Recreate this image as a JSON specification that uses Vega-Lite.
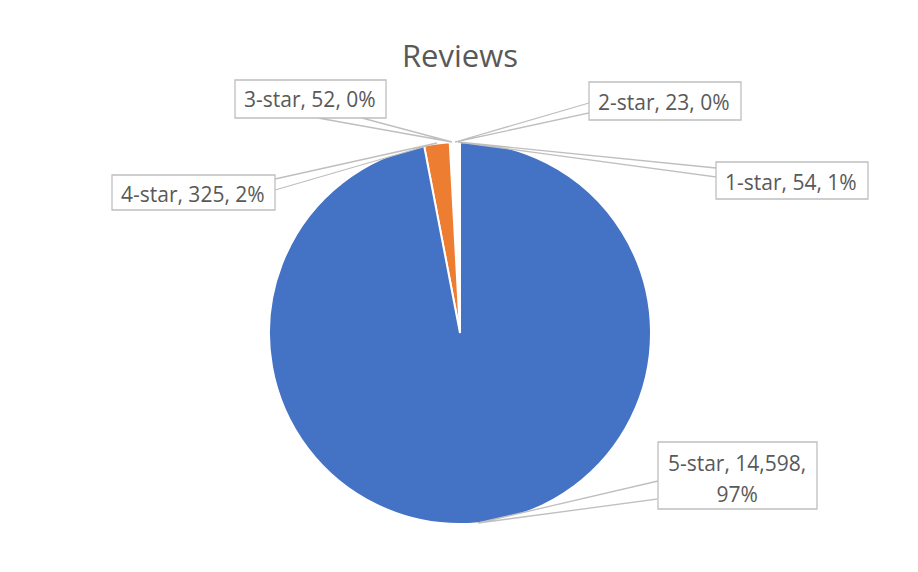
{
  "$schema": "https://vega.github.io/schema/vega-lite/v6.json",
  "width": 916,
  "height": 478,
  "autosize": {"type": "none"},
  "padding": {"left": 2, "top": 94, "right": 0, "bottom": 0},
  "background": "white",
  "config": {"view": {"stroke": null}},
  "title": {
    "text": "Reviews",
    "font": "Open Sans",
    "fontSize": 31,
    "fontWeight": "normal",
    "color": "#595959",
    "anchor": "middle",
    "baseline": "alphabetic",
    "offset": -25
  },
  "data": {
    "values": [
      {"stars": "1-star", "count": 54, "label": "1-star, 54, 1%"},
      {"stars": "2-star", "count": 23, "label": "2-star, 23, 0%"},
      {"stars": "3-star", "count": 52, "label": "3-star, 52, 0%"},
      {"stars": "4-star", "count": 325, "label": "4-star, 325, 2%"},
      {"stars": "5-star", "count": 14598, "label": "5-star, 14,598,\n97%"}
    ]
  },
  "layer": [
    {
      "mark": {"type": "arc", "outerRadius": 191, "stroke": "white", "strokeWidth": 2},
      "encoding": {
        "theta": {"field": "count", "type": "quantitative", "stack": true},
        "order": {"field": "stars", "type": "ordinal", "sort": "descending"},
        "color": {
          "field": "stars",
          "type": "nominal",
          "scale": {
            "domain": ["5-star", "4-star", "3-star", "2-star", "1-star"],
            "range": ["#4472C4", "#ED7D31", "#ffffff", "#ffffff", "#ffffff"]
          },
          "legend": null
        }
      }
    },
    {
      "mark": {"type": "point", "filled": true, "fill": "white", "stroke": "#bfbfbf", "strokeWidth": 1.3, "opacity": 1, "size": 4},
      "encoding": {
        "shape": {
          "field": "stars",
          "type": "nominal",
          "scale": {
            "domain": ["5-star", "4-star", "3-star", "2-star", "1-star"],
            "range": [
              "M198,148 L18,190 L198,166 Z M198,109 H357 V176 H198 Z",
              "M-185,-154 L-23,-190 L-185,-143 Z M-348,-158 H-185 V-123 H-348 Z",
              "M-142,-215 L-8,-191 L-98,-215 Z M-225,-253 H-74 V-215 H-225 Z",
              "M129,-230 L-5,-191 L129,-220 Z M129,-251 H281 V-213 H129 Z",
              "M256,-165 L-2,-191 L256,-156 Z M256,-171 H408 V-134 H256 Z"
            ]
          },
          "legend": null
        }
      }
    },
    {
      "mark": {"type": "text", "radius": 191, "font": "Open Sans", "fontSize": 21, "fill": "#595959", "align": "center", "baseline": "alphabetic", "dx": 259, "dy": -52, "lineBreak": "\n", "lineHeight": 31},
      "encoding": {
        "theta": {"field": "count", "type": "quantitative", "stack": true},
        "order": {"field": "stars", "type": "ordinal", "sort": "descending"},
        "text": {"condition": {"test": "datum.stars === '5-star'", "field": "label"}, "value": ""}
      }
    },
    {
      "mark": {"type": "text", "radius": 191, "font": "Open Sans", "fontSize": 21, "fill": "#595959", "align": "center", "baseline": "alphabetic", "dx": -244, "dy": 59},
      "encoding": {
        "theta": {"field": "count", "type": "quantitative", "stack": true},
        "order": {"field": "stars", "type": "ordinal", "sort": "descending"},
        "text": {"condition": {"test": "datum.stars === '4-star'", "field": "label"}, "value": ""}
      }
    },
    {
      "mark": {"type": "text", "radius": 191, "font": "Open Sans", "fontSize": 21, "fill": "#595959", "align": "center", "baseline": "alphabetic", "dx": -142, "dy": -35},
      "encoding": {
        "theta": {"field": "count", "type": "quantitative", "stack": true},
        "order": {"field": "stars", "type": "ordinal", "sort": "descending"},
        "text": {"condition": {"test": "datum.stars === '3-star'", "field": "label"}, "value": ""}
      }
    },
    {
      "mark": {"type": "text", "radius": 191, "font": "Open Sans", "fontSize": 21, "fill": "#595959", "align": "center", "baseline": "alphabetic", "dx": 209, "dy": -32},
      "encoding": {
        "theta": {"field": "count", "type": "quantitative", "stack": true},
        "order": {"field": "stars", "type": "ordinal", "sort": "descending"},
        "text": {"condition": {"test": "datum.stars === '2-star'", "field": "label"}, "value": ""}
      }
    },
    {
      "mark": {"type": "text", "radius": 191, "font": "Open Sans", "fontSize": 21, "fill": "#595959", "align": "center", "baseline": "alphabetic", "dx": 333, "dy": 48},
      "encoding": {
        "theta": {"field": "count", "type": "quantitative", "stack": true},
        "order": {"field": "stars", "type": "ordinal", "sort": "descending"},
        "text": {"condition": {"test": "datum.stars === '1-star'", "field": "label"}, "value": ""}
      }
    }
  ]
}
